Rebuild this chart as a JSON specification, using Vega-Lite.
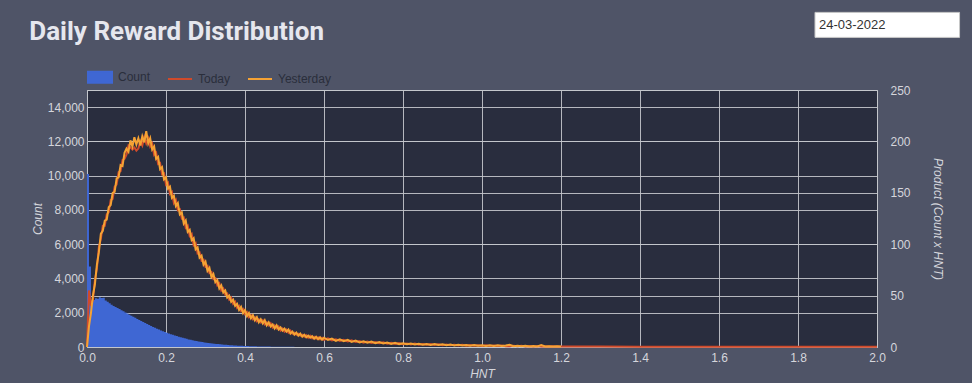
{
  "$schema": "https://vega.github.io/schema/vega-lite/v6.json",
  "width": 790,
  "height": 257,
  "autosize": {"type": "none"},
  "padding": {"left": 87, "top": 90, "right": 95, "bottom": 36},
  "background": "#4f5467",
  "title": {"text": "Daily Reward Distribution", "anchor": "start", "font": "Roboto", "fontSize": 26, "fontWeight": "bold", "color": "#e6e7ee", "dx": -2, "offset": -33},
  "config": {
    "view": {"fill": "#292d3e", "stroke": "#c4c6cc"},
    "axis": {"labelColor": "#d5d6dc", "labelFont": "Liberation Sans", "labelFontSize": 12, "titleColor": "#d5d6dc", "titleFont": "Liberation Sans", "titleFontSize": 12, "titleFontStyle": "italic", "titleFontWeight": "normal", "gridColor": "#c4c6cc", "gridOpacity": 0.9, "domain": false, "ticks": false, "labelFlush": false, "labelOverlap": false}
  },
  "data": {"values": [
    {"h":0,"c":10100,"t":0,"y":0},
    {"h":0.005,"c":4700,"t":55,"y":20},
    {"h":0.01,"c":2550,"t":40,"y":33},
    {"h":0.015,"c":2750,"t":46,"y":50},
    {"h":0.02,"c":2850,"t":65,"y":61},
    {"h":0.025,"c":2820,"t":76,"y":80},
    {"h":0.03,"c":2900,"t":97,"y":92},
    {"h":0.035,"c":2860,"t":105,"y":110},
    {"h":0.04,"c":2880,"t":118,"y":113},
    {"h":0.045,"c":2720,"t":118,"y":123},
    {"h":0.05,"c":2640,"t":129,"y":124},
    {"h":0.055,"c":2560,"t":131,"y":136},
    {"h":0.06,"c":2470,"t":143,"y":138},
    {"h":0.065,"c":2400,"t":144,"y":150},
    {"h":0.07,"c":2340,"t":156,"y":151},
    {"h":0.075,"c":2270,"t":158,"y":164},
    {"h":0.08,"c":2220,"t":170,"y":165},
    {"h":0.085,"c":2150,"t":171,"y":177},
    {"h":0.09,"c":2080,"t":182,"y":176},
    {"h":0.095,"c":2010,"t":183,"y":189},
    {"h":0.1,"c":1950,"t":187,"y":193},
    {"h":0.105,"c":1880,"t":196,"y":190},
    {"h":0.11,"c":1820,"t":194,"y":201},
    {"h":0.115,"c":1760,"t":192,"y":195},
    {"h":0.12,"c":1700,"t":194,"y":204},
    {"h":0.125,"c":1640,"t":191,"y":197},
    {"h":0.13,"c":1580,"t":193,"y":203},
    {"h":0.135,"c":1520,"t":200,"y":196},
    {"h":0.14,"c":1460,"t":196,"y":205},
    {"h":0.145,"c":1400,"t":204,"y":199},
    {"h":0.15,"c":1340,"t":198,"y":210},
    {"h":0.155,"c":1280,"t":203,"y":198},
    {"h":0.16,"c":1225,"t":195,"y":203},
    {"h":0.165,"c":1170,"t":198,"y":192},
    {"h":0.17,"c":1120,"t":187,"y":195},
    {"h":0.175,"c":1070,"t":189,"y":183},
    {"h":0.18,"c":1020,"t":178,"y":185},
    {"h":0.185,"c":970,"t":179,"y":173},
    {"h":0.19,"c":920,"t":168,"y":175},
    {"h":0.195,"c":875,"t":169,"y":163},
    {"h":0.2,"c":830,"t":158,"y":165},
    {"h":0.205,"c":790,"t":160,"y":154},
    {"h":0.21,"c":750,"t":149,"y":156},
    {"h":0.215,"c":710,"t":151,"y":145},
    {"h":0.22,"c":670,"t":140,"y":147},
    {"h":0.225,"c":635,"t":143,"y":137},
    {"h":0.23,"c":600,"t":133,"y":140},
    {"h":0.235,"c":565,"t":134,"y":129},
    {"h":0.24,"c":535,"t":125,"y":131},
    {"h":0.245,"c":505,"t":126,"y":120},
    {"h":0.25,"c":475,"t":116,"y":123},
    {"h":0.255,"c":445,"t":118,"y":112},
    {"h":0.26,"c":420,"t":108,"y":114},
    {"h":0.265,"c":395,"t":110,"y":104},
    {"h":0.27,"c":370,"t":99,"y":106},
    {"h":0.275,"c":345,"t":101,"y":95},
    {"h":0.28,"c":325,"t":91,"y":97},
    {"h":0.285,"c":305,"t":92,"y":87},
    {"h":0.29,"c":285,"t":84,"y":89},
    {"h":0.295,"c":265,"t":85,"y":80},
    {"h":0.3,"c":250,"t":78,"y":83},
    {"h":0.305,"c":235,"t":79,"y":74},
    {"h":0.31,"c":220,"t":72,"y":77},
    {"h":0.315,"c":205,"t":73,"y":68},
    {"h":0.32,"c":192,"t":66,"y":71},
    {"h":0.325,"c":180,"t":67,"y":63},
    {"h":0.33,"c":168,"t":60,"y":65},
    {"h":0.335,"c":156,"t":62,"y":57},
    {"h":0.34,"c":145,"t":55,"y":60},
    {"h":0.345,"c":135,"t":57,"y":53},
    {"h":0.35,"c":125,"t":51,"y":55},
    {"h":0.355,"c":116,"t":52,"y":48},
    {"h":0.36,"c":108,"t":46,"y":50},
    {"h":0.365,"c":100,"t":48,"y":44},
    {"h":0.37,"c":93,"t":42,"y":46},
    {"h":0.375,"c":86,"t":44,"y":40},
    {"h":0.38,"c":80,"t":38,"y":42},
    {"h":0.385,"c":74,"t":40,"y":36},
    {"h":0.39,"c":68,"t":35,"y":39},
    {"h":0.395,"c":63,"t":37,"y":33},
    {"h":0.4,"c":58,"t":32,"y":36},
    {"h":0.405,"c":54,"t":34,"y":30},
    {"h":0.41,"c":50,"t":29,"y":33},
    {"h":0.415,"c":46,"t":31,"y":28},
    {"h":0.42,"c":42,"t":27,"y":31},
    {"h":0.425,"c":39,"t":29,"y":26},
    {"h":0.43,"c":36,"t":25,"y":29},
    {"h":0.435,"c":33,"t":27,"y":24},
    {"h":0.44,"c":30,"t":24,"y":27},
    {"h":0.445,"c":28,"t":26,"y":23},
    {"h":0.45,"c":26,"t":22,"y":26},
    {"h":0.455,"c":24,"t":24,"y":21},
    {"h":0.46,"c":22,"t":21,"y":24},
    {"h":0.465,"c":20,"t":23,"y":20},
    {"h":0.47,"c":18,"t":19,"y":22},
    {"h":0.475,"c":17,"t":21,"y":18},
    {"h":0.48,"c":15,"t":18,"y":21},
    {"h":0.485,"c":14,"t":20,"y":17},
    {"h":0.49,"c":13,"t":16,"y":19},
    {"h":0.495,"c":12,"t":18,"y":16},
    {"h":0.5,"c":11,"t":15,"y":18},
    {"h":0.505,"c":10,"t":17,"y":15},
    {"h":0.51,"c":9,"t":14,"y":17},
    {"h":0.515,"c":9,"t":16,"y":13},
    {"h":0.52,"c":8,"t":13,"y":15},
    {"h":0.525,"c":7,"t":14,"y":12},
    {"h":0.53,"c":7,"t":12,"y":14},
    {"h":0.535,"c":6,"t":13,"y":11},
    {"h":0.54,"c":6,"t":11,"y":13},
    {"h":0.545,"c":5,"t":12,"y":10},
    {"h":0.55,"c":5,"t":10,"y":12},
    {"h":0.555,"c":5,"t":11.5,"y":9.5},
    {"h":0.56,"c":4,"t":9,"y":11},
    {"h":0.565,"c":4,"t":11,"y":9},
    {"h":0.57,"c":4,"t":8.5,"y":10.5},
    {"h":0.575,"c":3,"t":10,"y":8},
    {"h":0.58,"c":3,"t":8,"y":10},
    {"h":0.585,"c":3,"t":9.5,"y":7.5},
    {"h":0.59,"c":3,"t":7.5,"y":9.5},
    {"h":0.595,"c":2,"t":9,"y":7},
    {"h":0.6,"c":2,"t":7,"y":9},
    {"h":0.61,"t":8.4,"y":6.8},
    {"h":0.62,"t":6.5,"y":8.2},
    {"h":0.63,"t":7.6,"y":6.0},
    {"h":0.64,"t":5.9,"y":7.5},
    {"h":0.65,"t":7.0,"y":5.6},
    {"h":0.66,"t":5.3,"y":6.9},
    {"h":0.67,"t":6.4,"y":5.0},
    {"h":0.68,"t":4.8,"y":6.2},
    {"h":0.69,"t":5.8,"y":4.5},
    {"h":0.7,"t":4.3,"y":5.6},
    {"h":0.71,"t":5.3,"y":4.1},
    {"h":0.72,"t":3.9,"y":5.2},
    {"h":0.73,"t":4.9,"y":3.7},
    {"h":0.74,"t":3.6,"y":4.8},
    {"h":0.75,"t":4.5,"y":3.4},
    {"h":0.76,"t":3.2,"y":4.3},
    {"h":0.77,"t":4.1,"y":3.0},
    {"h":0.78,"t":2.9,"y":4.0},
    {"h":0.79,"t":3.8,"y":2.8},
    {"h":0.8,"t":2.7,"y":3.7},
    {"h":0.81,"t":3.5,"y":2.6},
    {"h":0.82,"t":2.5,"y":3.4},
    {"h":0.83,"t":3.3,"y":2.4},
    {"h":0.84,"t":2.3,"y":3.2},
    {"h":0.85,"t":3.0,"y":2.2},
    {"h":0.86,"t":2.1,"y":3.0},
    {"h":0.87,"t":2.9,"y":2.0},
    {"h":0.88,"t":1.9,"y":2.8},
    {"h":0.89,"t":2.6,"y":1.9},
    {"h":0.9,"t":1.8,"y":2.6},
    {"h":0.91,"t":2.4,"y":1.7},
    {"h":0.92,"t":1.6,"y":2.4},
    {"h":0.93,"t":2.2,"y":1.5},
    {"h":0.94,"t":1.5,"y":2.2},
    {"h":0.95,"t":2.1,"y":1.4},
    {"h":0.96,"t":1.3,"y":2.0},
    {"h":0.97,"t":1.9,"y":1.3},
    {"h":0.98,"t":1.2,"y":1.9},
    {"h":0.99,"t":1.8,"y":1.2},
    {"h":1.0,"t":1.1,"y":1.8},
    {"h":1.01,"t":1.6,"y":1.1},
    {"h":1.02,"t":1.0,"y":1.7},
    {"h":1.03,"t":1.5,"y":1.0},
    {"h":1.04,"t":0.9,"y":1.6},
    {"h":1.05,"t":1.4,"y":0.9},
    {"h":1.06,"t":0.8,"y":1.5},
    {"h":1.07,"t":0.8,"y":2.2},
    {"h":1.08,"t":1.3,"y":0.8},
    {"h":1.09,"t":0.7,"y":1.3},
    {"h":1.1,"t":1.2,"y":0.7},
    {"h":1.11,"t":0.6,"y":1.1},
    {"h":1.12,"t":1.0,"y":0.6},
    {"h":1.13,"t":0.5,"y":1.0},
    {"h":1.14,"t":0.9,"y":0.6},
    {"h":1.15,"t":0.5,"y":1.8},
    {"h":1.16,"t":0.8,"y":0.5},
    {"h":1.17,"t":0.4,"y":0.8},
    {"h":1.18,"t":0.7,"y":0.4},
    {"h":1.19,"t":0.4,"y":0.7},
    {"h":1.2,"t":0.5,"y":0.5},
    {"h":1.3,"t":0.4},
    {"h":1.4,"t":0.35},
    {"h":1.5,"t":0.3},
    {"h":1.6,"t":0.3},
    {"h":1.7,"t":0.25},
    {"h":1.8,"t":0.25},
    {"h":1.9,"t":0.2},
    {"h":2.0,"t":0.2}
  ]},
  "layer": [
    {
      "layer": [
        {
          "mark": {"type": "area", "interpolate": "step-after"},
          "encoding": {
            "x": {"field": "h", "type": "quantitative", "scale": {"domain": [0, 2], "nice": false},
                  "axis": {"values": [0, 0.2, 0.4, 0.6, 0.8, 1.0, 1.2, 1.4, 1.6, 1.8, 2.0], "format": ".1f", "title": "HNT", "labelPadding": 5, "titlePadding": 5, "grid": true}},
            "y": {"field": "c", "type": "quantitative", "scale": {"domain": [0, 15000], "nice": false, "zero": true},
                  "axis": {"values": [0, 2000, 4000, 6000, 8000, 10000, 12000, 14000], "labelExpr": "format(datum.value, ',')", "title": "Count", "labelPadding": 3, "titlePadding": 3, "grid": true}},
            "color": {"datum": "Count", "type": "nominal",
                      "scale": {"domain": ["Count", "Today", "Yesterday"], "range": ["#3f67d3", "#d04a2a", "#f5a234"]},
                      "legend": {"orient": "top", "direction": "horizontal", "title": null, "offset": 3,
                                 "labelColor": "#2a2e3b", "labelFont": "Liberation Sans", "labelFontSize": 12,
                                 "symbolSize": 576, "columnPadding": 13, "labelOffset": 5,
                                 "encode": {"symbols": {"update": {
                                   "shape": {"signal": "datum.value === 'Count' ? 'M-1,-0.46H1V0.46H-1Z' : 'stroke'"},
                                   "fill": {"signal": "datum.value === 'Count' ? '#3f67d3' : 'transparent'"},
                                   "stroke": {"signal": "datum.value === 'Today' ? '#d04a2a' : datum.value === 'Yesterday' ? '#f5a234' : 'transparent'"},
                                   "strokeWidth": {"value": 2},
                                   "opacity": {"value": 1}
                                 }}}}}
          }
        },
        {
          "data": {"values": [{"date": "24-03-2022"}]},
          "mark": {"type": "rect", "fill": "#ffffff", "stroke": "#c8c8c8", "strokeWidth": 1, "clip": false},
          "encoding": {
            "x": {"datum": 1.843, "type": "quantitative"},
            "x2": {"datum": 2.209},
            "y": {"datum": 19530, "type": "quantitative",
                  "axis": {"values": [0, 2000, 4000, 6000, 8000, 10000, 12000, 14000], "labelExpr": "format(datum.value, ',')", "title": "Count", "labelPadding": 3, "titlePadding": 3, "grid": true}},
            "y2": {"datum": 18070}
          }
        },
        {
          "data": {"values": [{"date": "24-03-2022"}]},
          "mark": {"type": "text", "align": "left", "baseline": "middle", "font": "Liberation Sans", "fontSize": 13, "color": "#333333", "clip": false},
          "encoding": {
            "x": {"datum": 1.853, "type": "quantitative"},
            "y": {"datum": 18800, "type": "quantitative",
                  "axis": {"values": [0, 2000, 4000, 6000, 8000, 10000, 12000, 14000], "labelExpr": "format(datum.value, ',')", "title": "Count", "labelPadding": 3, "titlePadding": 3, "grid": true}},
            "text": {"field": "date", "type": "nominal"}
          }
        }
      ]
    },
    {
      "layer": [
        {
          "mark": {"type": "line", "strokeWidth": 2},
          "encoding": {
            "x": {"field": "h", "type": "quantitative"},
            "y": {"field": "t", "type": "quantitative", "scale": {"domain": [0, 250], "nice": false},
                  "axis": {"orient": "right", "values": [0, 50, 100, 150, 200, 250], "title": "Product (Count x HNT)", "labelPadding": 13, "titlePadding": 20, "grid": true}},
            "color": {"datum": "Today", "type": "nominal"}
          }
        },
        {
          "mark": {"type": "line", "strokeWidth": 2},
          "encoding": {
            "x": {"field": "h", "type": "quantitative"},
            "y": {"field": "y", "type": "quantitative"},
            "color": {"datum": "Yesterday", "type": "nominal"}
          }
        }
      ]
    }
  ],
  "resolve": {"scale": {"y": "independent"}}
}
